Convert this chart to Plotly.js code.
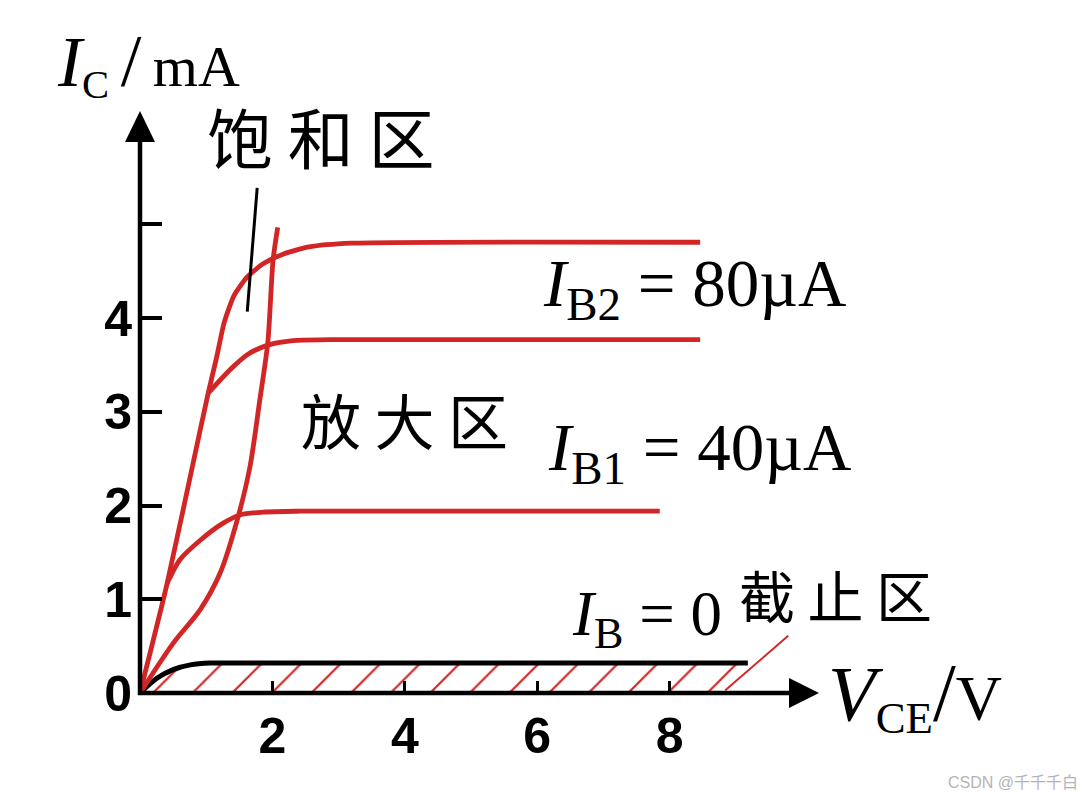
<!DOCTYPE html>
<html>
<head>
<meta charset="utf-8">
<script src="https://cdn.plot.ly/plotly-3.0.1.min.js"></script>
<style>html,body{margin:0;padding:0;background:#fff;}#chart{width:1084px;height:799px;}</style>
</head>
<body>
<div id="chart"></div>
<script>
// ---- data (V_CE in V, I_C in mA) ----
// top curve (includes the shared steep rise from the origin)
const topCurveV   = [0, 0.41, 0.91, 1.03, 1.16, 1.27, 1.42, 1.62, 1.86, 2.15, 2.55, 3.20, 8.46];
const topCurveI   = [0, 1.17, 2.81, 3.20, 3.59, 3.95, 4.24, 4.44, 4.58, 4.68, 4.76, 4.80, 4.81];

// I_B2 = 80 µA curve (branches off the steep rise)
const ib80CurveV  = [1.03, 1.36, 1.62, 1.92, 2.31, 2.87, 8.46];
const ib80CurveI  = [3.20, 3.45, 3.61, 3.71, 3.76, 3.77, 3.77];

// I_B1 = 40 µA curve (branches off the steep rise)
const ib40CurveV  = [0.41, 0.60, 0.91, 1.25, 1.51, 1.86, 2.42, 7.85];
const ib40CurveI  = [1.17, 1.42, 1.63, 1.81, 1.90, 1.93, 1.94, 1.94];

// I_B = 0 curve
const ib0CurveV   = [0, 0.26, 0.50, 0.76, 1.06, 1.40, 9.18];
const ib0CurveI   = [0, 0.16, 0.25, 0.30, 0.32, 0.32, 0.32];

// saturation boundary
const satLineV    = [0, 0.50, 0.91, 1.21, 1.47, 1.66, 1.81, 1.93, 2.01, 2.08];
const satLineI    = [0, 0.53, 0.89, 1.28, 1.85, 2.41, 3.13, 3.74, 4.62, 4.97];

// label pointer lines
const satPointerV = [1.77, 1.62];
const satPointerI = [5.39, 4.07];
const cutPointerV = [9.79, 8.84];
const cutPointerI = [0.61, 0.03];

const xTickVals   = [2, 4, 6, 8];
const xTickText   = ['2', '4', '6', '8'];
const yTickVals   = [0, 1, 2, 3, 4];
const yTickText   = ['0', '1', '2', '3', '4'];
const yExtraTick  = [5];
const xMax = 10.24, yMax = 6.2;

// ---- style ----
const RED = '#d22626';
const L = 140, R = 266, T = 112, B = 106, FW = 1084, FH = 799;
const PW = FW - L - R, PH = FH - T - B;
function px(xp){ return (xp - L) / PW; }
function py(yp){ return (FH - B - yp) / PH; }

const redLine = {color: RED, width: 4.8, shape: 'spline', smoothing: 0.8};
const redLineTop = {color: RED, width: 4.8, shape: 'spline', smoothing: 0.6};

const traces = [
  {x: ib0CurveV, y: ib0CurveI, mode: 'lines', fill: 'tozeroy', fillcolor: 'rgba(0,0,0,0)',
   fillpattern: {shape: '/', fgcolor: RED, bgcolor: 'rgba(0,0,0,0)', size: 28, solidity: 0.08},
   line: {color: '#000', width: 5, shape: 'spline', smoothing: 0.8}, hoverinfo: 'skip'},
  {x: ib40CurveV, y: ib40CurveI, mode: 'lines', line: redLine, hoverinfo: 'skip'},
  {x: ib80CurveV, y: ib80CurveI, mode: 'lines', line: redLine, hoverinfo: 'skip'},
  {x: topCurveV, y: topCurveI, mode: 'lines', line: redLineTop, hoverinfo: 'skip'},
  {x: satLineV, y: satLineI, mode: 'lines', line: redLine, hoverinfo: 'skip'},
  {x: satPointerV, y: satPointerI, mode: 'lines', line: {color: '#000', width: 3}, hoverinfo: 'skip'},
  {x: cutPointerV, y: cutPointerI, mode: 'lines', line: {color: RED, width: 2}, hoverinfo: 'skip'}
];

const serif = 'Liberation Serif, Times New Roman, serif';
const cjk = 'Noto Sans CJK SC, sans-serif';
const tickFont = {family: 'Liberation Sans, Arial, sans-serif', size: 50, color: '#000', weight: 'bold'};

// axis lines and arrow heads (decoration, in paper coordinates)
function tri(a, b, c){
  return 'M' + px(a[0]) + ',' + py(a[1]) + ' L' + px(b[0]) + ',' + py(b[1]) + ' L' + px(c[0]) + ',' + py(c[1]) + ' Z';
}
const axisLine = {color: '#000', width: 4.5};
const shapes = [
  {type: 'line', xref: 'paper', yref: 'paper', x0: px(138), y0: py(693), x1: px(796), y1: py(693), line: axisLine, layer: 'above'},
  {type: 'line', xref: 'paper', yref: 'paper', x0: px(140), y0: py(695), x1: px(140), y1: py(135), line: axisLine, layer: 'above'},
  {type: 'path', xref: 'paper', yref: 'paper', path: tri([819, 693], [789, 678], [789, 708]),
   fillcolor: '#000', line: {width: 0}, layer: 'above'},
  {type: 'path', xref: 'paper', yref: 'paper', path: tri([140, 111], [125, 142], [155, 142]),
   fillcolor: '#000', line: {width: 0}, layer: 'above'}
];

const annotations = [
  {xref: 'paper', yref: 'paper', x: px(55), y: py(64), xanchor: 'left', yanchor: 'middle', showarrow: false,
   text: '<span style="font-size:72px"><i>I</i></span><sub>C</sub>\u2009<span style="font-size:74px">/</span>\u2009mA',
   font: {family: serif, size: 58, color: '#000'}},
  {xref: 'paper', yref: 'paper', x: px(321), y: py(135), xanchor: 'center', yanchor: 'middle', showarrow: false,
   text: '饱 和 区', font: {family: cjk, size: 66, color: '#000'}},
  {xref: 'paper', yref: 'paper', x: px(404), y: py(418), xanchor: 'center', yanchor: 'middle', showarrow: false,
   text: '放 大 区', font: {family: cjk, size: 60, color: '#000'}},
  {xref: 'paper', yref: 'paper', x: px(541), y: py(288), xanchor: 'left', yanchor: 'middle', showarrow: false,
   text: '<i>I</i><sub>B2</sub> = 80µA', font: {family: serif, size: 67, color: '#000'}},
  {xref: 'paper', yref: 'paper', x: px(546), y: py(452), xanchor: 'left', yanchor: 'middle', showarrow: false,
   text: '<i>I</i><sub>B1</sub> = 40µA', font: {family: serif, size: 67, color: '#000'}},
  {xref: 'paper', yref: 'paper', x: px(570), y: py(618), xanchor: 'left', yanchor: 'middle', showarrow: false,
   text: '<i>I</i><sub>B</sub> = 0', font: {family: serif, size: 63, color: '#000'}},
  {xref: 'paper', yref: 'paper', x: px(835), y: py(593), xanchor: 'center', yanchor: 'middle', showarrow: false,
   text: '截 止 区', font: {family: cjk, size: 56, color: '#000'}},
  {xref: 'paper', yref: 'paper', x: px(826), y: py(695), xanchor: 'left', yanchor: 'middle', showarrow: false,
   text: '<span style="font-size:78px"><i>V</i></span><sub>CE</sub><span style="font-size:82px">/</span>V',
   font: {family: serif, size: 64, color: '#000'}},
  {xref: 'paper', yref: 'paper', x: px(1080), y: py(782), xanchor: 'right', yanchor: 'middle', showarrow: false,
   text: 'CSDN @千千千白', font: {family: 'Liberation Sans, Noto Sans CJK SC, sans-serif', size: 16, color: '#b4b4b4'}}
];

const layout = {
  width: FW, height: FH,
  margin: {l: L, r: R, t: T, b: B, pad: 0},
  paper_bgcolor: '#fff', plot_bgcolor: '#fff',
  showlegend: false,
  xaxis: {range: [0, xMax], showgrid: false, zeroline: false, showline: false,
          tickmode: 'array', tickvals: xTickVals, ticktext: xTickText,
          ticks: 'inside', ticklen: 12, tickwidth: 3, tickcolor: '#000',
          tickfont: tickFont, ticklabelstandoff: 9, fixedrange: true},
  yaxis: {range: [0, yMax], showgrid: false, zeroline: false, showline: false,
          tickmode: 'array', tickvals: yTickVals, ticktext: yTickText,
          ticks: 'inside', ticklen: 22, tickwidth: 4, tickcolor: '#000',
          minor: {tickmode: 'array', tickvals: yExtraTick, ticks: 'inside', ticklen: 22, tickwidth: 4, tickcolor: '#000', showgrid: false},
          tickfont: tickFont, ticklabelstandoff: 7, fixedrange: true},
  shapes: shapes,
  annotations: annotations
};

Plotly.newPlot('chart', traces, layout, {displayModeBar: false, staticPlot: true});
</script>
</body>
</html>
